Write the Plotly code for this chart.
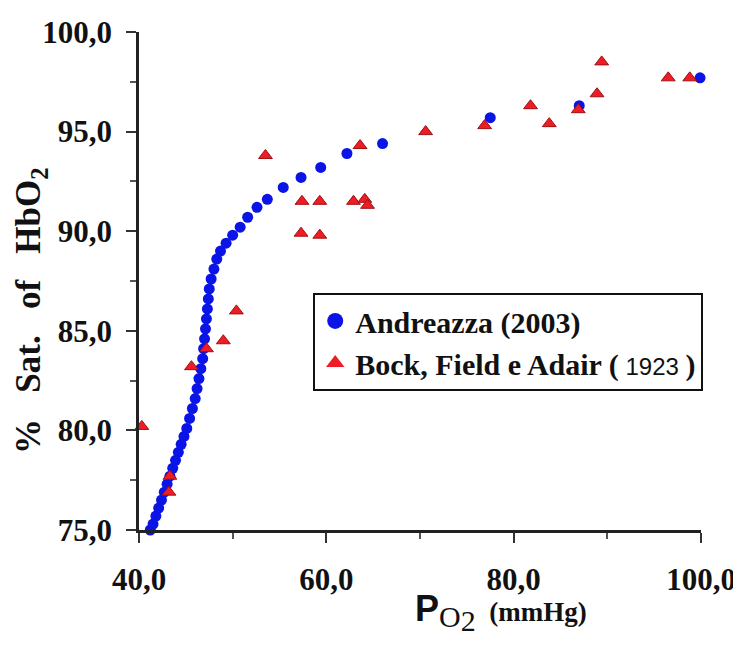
import plotly.graph_objects as go

# Andreazza (2003) - saturation curve points
andreazza_po2 = [41.2, 41.5, 41.8, 42.1, 42.4, 42.7, 43.0, 43.3, 43.6, 43.9,
                 44.2, 44.5, 44.8, 45.1, 45.4, 45.7, 46.0, 46.2, 46.4, 46.6,
                 46.8, 46.9, 47.0, 47.1, 47.2, 47.3, 47.4, 47.5, 47.7, 48.0,
                 48.3, 48.7, 49.3, 50.0, 50.8, 51.6, 52.6, 53.7, 55.4, 57.3,
                 59.4, 62.2, 66.0, 77.5, 87.0, 99.9]
andreazza_sat = [75.0, 75.3, 75.7, 76.1, 76.5, 76.9, 77.3, 77.7, 78.1, 78.5,
                 78.9, 79.3, 79.7, 80.1, 80.6, 81.1, 81.6, 82.1, 82.6, 83.1,
                 83.6, 84.1, 84.6, 85.1, 85.6, 86.1, 86.6, 87.1, 87.6, 88.1,
                 88.6, 89.0, 89.4, 89.8, 90.2, 90.7, 91.2, 91.6, 92.2, 92.7,
                 93.2, 93.9, 94.4, 95.7, 96.3, 97.7]

# Bock, Field e Adair (1923)
bock_po2 = [40.3, 43.3, 43.2, 45.6, 47.2, 49.0, 50.4, 53.5, 57.4, 59.3,
            57.3, 59.3, 62.9, 64.1, 64.4, 63.6, 70.6, 76.9, 81.8, 83.8,
            86.9, 88.9, 89.4, 96.5, 98.8]
bock_sat = [80.2, 77.7, 76.9, 83.2, 84.1, 84.5, 86.0, 93.8, 91.5, 91.5,
            89.9, 89.8, 91.5, 91.6, 91.3, 94.3, 95.0, 95.3, 96.3, 95.4,
            96.1, 96.9, 98.5, 97.7, 97.7]

x_ticks = [40, 60, 80, 100]
x_labels = ["40,0", "60,0", "80,0", "100,0"]
y_ticks = [75, 80, 85, 90, 95, 100]
y_labels = ["75,0", "80,0", "85,0", "90,0", "95,0", "100,0"]

serif = "Liberation Serif"
blue = "#0a14e6"
red = "#ee1c24"

fig = go.Figure()

fig.add_trace(go.Scatter(
    x=andreazza_po2, y=andreazza_sat, mode="markers",
    marker=dict(symbol="circle", size=11, color=blue),
    cliponaxis=False, showlegend=False))

fig.add_trace(go.Scatter(
    x=bock_po2, y=bock_sat, mode="markers",
    marker=dict(symbol="triangle-up", size=12, color=red,
                line=dict(color="#a01010", width=1)),
    cliponaxis=False, showlegend=False))

# legend entries with bigger symbols
fig.add_trace(go.Scatter(
    x=[None], y=[None], mode="markers", name="Andreazza (2003)",
    marker=dict(symbol="circle", size=16, color=blue)))
fig.add_trace(go.Scatter(
    x=[None], y=[None], mode="markers",
    name="Bock, Field e Adair (<span style='font-family:Liberation Sans;"
         "font-weight:normal;font-size:24px'> 1923 </span>)",
    marker=dict(symbol="triangle-up", size=18, color=red)))

axis_common = dict(
    showline=True, linecolor="#222", linewidth=2.5,
    ticks="outside", ticklen=10, tickwidth=2, tickcolor="#333",
    showgrid=False, zeroline=False, automargin=False,
    tickfont=dict(family=serif, size=31, color="#111", weight="bold"),
)

fig.update_xaxes(range=[40, 100], tickvals=x_ticks, ticktext=x_labels,
                 minor=dict(dtick=10, tick0=40, ticks="outside", ticklen=6,
                            tickwidth=1.5, tickcolor="#555"),
                 ticklabelstandoff=10, **axis_common)
fig.update_yaxes(range=[75, 100], tickvals=y_ticks, ticktext=y_labels,
                 minor=dict(dtick=2.5, tick0=75, ticks="outside", ticklen=6,
                            tickwidth=1.5, tickcolor="#555"),
                 ticklabelstandoff=8, **axis_common)

fig.add_annotation(
    text="%&nbsp;&nbsp; Sat.&nbsp;&nbsp; of&nbsp;&nbsp; HbO<sub>2</sub>",
    xref="paper", yref="paper",
    x=-0.192, y=0.44, textangle=-90, showarrow=False,
    xanchor="center", yanchor="middle",
    font=dict(family=serif, size=35, color="#111", weight="bold"))

fig.add_annotation(
    text="<span style='font-family:Liberation Sans;font-weight:bold;font-size:36px'>P</span>"
         "<sub><span style='font-size:30px'>O</span></sub>"
         "<sub><sub><span style='font-size:30px'>2</span></sub></sub>"
         "&nbsp;&nbsp;<b>(mmHg)</b>",
    xref="paper", yref="paper", x=0.645, y=-0.165, showarrow=False,
    xanchor="center", yanchor="middle",
    font=dict(family=serif, size=27, color="#111"))

# the page adds an 8px body margin, so the plot margins are shifted back
fig.update_layout(
    width=741, height=646,
    margin=dict(l=131, r=48, t=24, b=124),
    plot_bgcolor="white", paper_bgcolor="white",
    legend=dict(x=0.31, y=0.476, xanchor="left", yanchor="top",
                bgcolor="white", bordercolor="#111", borderwidth=2,
                font=dict(family=serif, size=30, color="#111", weight="bold"),
                itemwidth=30, tracegroupgap=0),
)

fig.write_html("out.html")
